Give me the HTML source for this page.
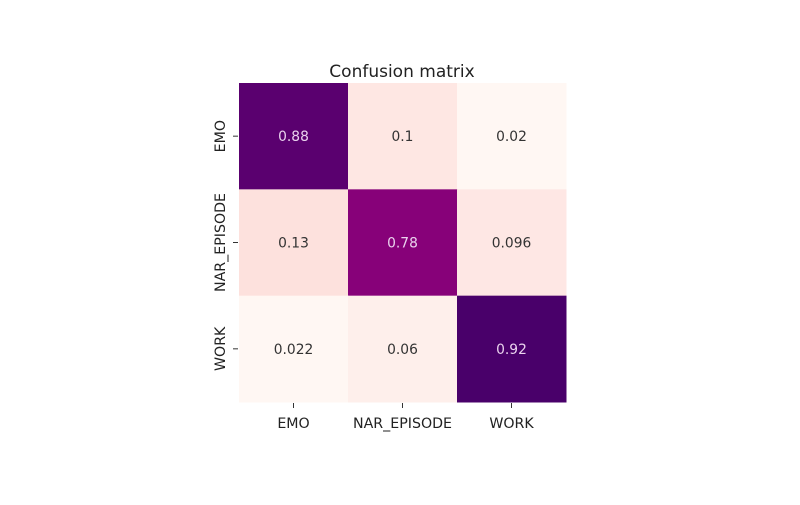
<!DOCTYPE html>
<html><head><meta charset="utf-8"><style>
body{margin:0;background:#fff;}
svg text{font-family:"DejaVu Sans","Liberation Sans",sans-serif;}
</style></head><body>
<svg id="chart" width="800" height="500" viewBox="0 0 800 500">
<text x="402" y="77" font-size="17" text-anchor="middle" fill="#222">Confusion matrix</text>
<g id="cells"></g>
<g id="xticks"></g>
<g id="yticks"></g>
</svg>
<script>
const rowLabels = ["EMO","NAR_EPISODE","WORK"];
const colLabels = ["EMO","NAR_EPISODE","WORK"];
const values = [
  [0.88, 0.1, 0.02],
  [0.13, 0.78, 0.096],
  [0.022, 0.06, 0.92]
];
const displayText = [
  ["0.88","0.1","0.02"],
  ["0.13","0.78","0.096"],
  ["0.022","0.06","0.92"]
];
const X0=239, Y0=83, W=327, H=319;
const ns="http://www.w3.org/2000/svg";
const stops=["#fff7f3","#fde0dd","#fcc5c0","#fa9fb5","#f768a1","#dd3497","#ae017e","#7a0177","#49006a"];
const flat=values.flat();
const vmin=Math.min(...flat), vmax=Math.max(...flat);
function hex(c){return [1,3,5].map(i=>parseInt(c.substr(i,2),16));}
function color(v){
  let t=(v-vmin)/(vmax-vmin);t=Math.max(0,Math.min(1,t));
  const p=t*(stops.length-1), i=Math.min(Math.floor(p),stops.length-2), f=p-i;
  const a=hex(stops[i]), b=hex(stops[i+1]);
  return "rgb("+a.map((x,k)=>Math.round(x+(b[k]-x)*f)).join(",")+")";
}
const cw=W/colLabels.length, ch=H/rowLabels.length;
function xPos(j){return X0+j*cw;}
function yPos(i){return Y0+i*ch;}
const cells=document.getElementById('cells');
values.forEach((row,i)=>row.forEach((v,j)=>{
  const r=document.createElementNS(ns,'rect');
  r.setAttribute('x',xPos(j));r.setAttribute('y',yPos(i));
  r.setAttribute('width',cw+0.5);r.setAttribute('height',ch+0.5);
  r.setAttribute('fill',color(v));
  
  
  cells.appendChild(r);
  const t=document.createElementNS(ns,'text');
  t.setAttribute('x',xPos(j)+cw/2);t.setAttribute('y',yPos(i)+ch/2+5);
  t.setAttribute('text-anchor','middle');t.setAttribute('font-size','13.8');
  const tn=(v-vmin)/(vmax-vmin);
  t.setAttribute('fill',tn>0.5?'#ead3ee':'#333');
  t.textContent=displayText[i][j];
  
  
  cells.appendChild(t);
}));
const xt=document.getElementById('xticks');
colLabels.forEach((l,j)=>{
  const cx=xPos(j)+cw/2;
  const ln=document.createElementNS(ns,'line');
  ln.setAttribute('x1',cx);ln.setAttribute('x2',cx);ln.setAttribute('y1',Y0+H+1);ln.setAttribute('y2',Y0+H+6);
  ln.setAttribute('stroke','#333');
  
  
  xt.appendChild(ln);
  const t=document.createElementNS(ns,'text');
  t.setAttribute('x',cx);t.setAttribute('y',Y0+H+26);
  t.setAttribute('text-anchor','middle');t.setAttribute('font-size','14.2');t.setAttribute('fill','#222');
  t.textContent=l;
  
  
  xt.appendChild(t);
});
const yt=document.getElementById('yticks');
rowLabels.forEach((l,i)=>{
  const cy=yPos(i)+ch/2;
  const ln=document.createElementNS(ns,'line');
  ln.setAttribute('x1',X0-6);ln.setAttribute('x2',X0-1);ln.setAttribute('y1',cy);ln.setAttribute('y2',cy);
  ln.setAttribute('stroke','#333');
  
  
  yt.appendChild(ln);
  const t=document.createElementNS(ns,'text');
  t.setAttribute('x',0);t.setAttribute('y',0);
  t.setAttribute('transform','translate('+(X0-14)+','+cy+') rotate(-90)');
  t.setAttribute('text-anchor','middle');t.setAttribute('font-size','14.2');t.setAttribute('fill','#222');
  t.textContent=l;
  
  
  yt.appendChild(t);
});
</script>
</body></html>
